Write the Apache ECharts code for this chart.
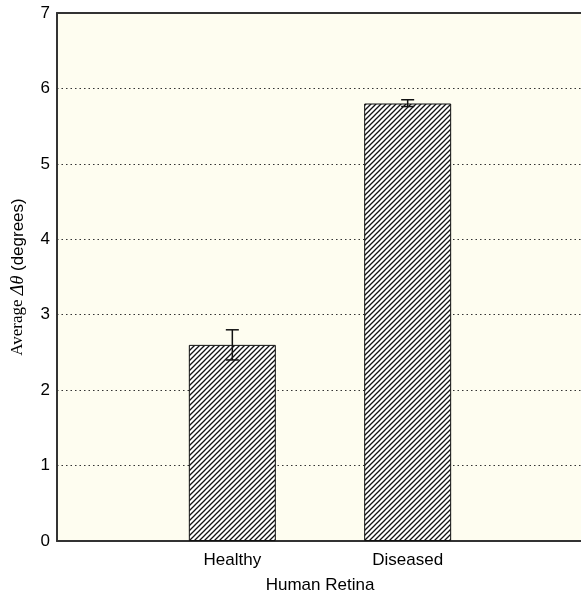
<!DOCTYPE html>
<html><head><meta charset="utf-8">
<script src="https://cdn.jsdelivr.net/npm/echarts@6/dist/echarts.min.js"></script>
<style>html,body{margin:0;padding:0;background:#fff}#c{width:581px;height:591px}</style>
</head><body><div id="c"></div>
<script>
var categories = ['Healthy', 'Diseased'];
var positions = [1, 2];
var means = [2.6, 5.8];
var errLow = [2.4, 5.76];
var errHigh = [2.8, 5.85];
var yTicks = [0, 1, 2, 3, 4, 5, 6, 7];

var pat = document.createElement('canvas');
pat.width = 5; pat.height = 5;
var g = pat.getContext('2d');
g.fillStyle = '#ffffff'; g.fillRect(0, 0, 5, 5);
g.strokeStyle = '#111'; g.lineWidth = 1.3;
g.beginPath();
g.moveTo(0, 5); g.lineTo(5, 0);
g.moveTo(-1, 1); g.lineTo(1, -1);
g.moveTo(4, 6); g.lineTo(6, 4);
g.stroke();

var chart = echarts.init(document.getElementById('c'));
chart.setOption({
  animation: false,
  backgroundColor: '#ffffff',
  grid: {left: 57, top: 13, right: -2, bottom: 50, outerBoundsMode: 'none', containLabel: false,
    show: true, backgroundColor: '#fefdf0', borderWidth: 0},
  xAxis: [{
    type: 'value', min: 0, max: 3, interval: 1,
    axisLine: {show: true, onZero: false, lineStyle: {color: '#333', width: 2}},
    axisTick: {show: false}, splitLine: {show: false},
    axisLabel: {fontFamily: 'Liberation Sans', fontSize: 17, color: '#000', margin: 11,
      formatter: function (v) { var i = positions.indexOf(v); return i >= 0 ? categories[i] : ''; }},
    name: 'Human Retina', nameLocation: 'middle', nameGap: 36,
    nameTextStyle: {fontFamily: 'Liberation Sans', fontSize: 17, color: '#000'}
  }, {
    type: 'value', position: 'top', min: 0, max: 3,
    axisLine: {show: true, onZero: false, lineStyle: {color: '#333', width: 2}},
    axisTick: {show: false}, axisLabel: {show: false}, splitLine: {show: false}
  }],
  yAxis: {
    type: 'value', min: yTicks[0], max: yTicks[yTicks.length - 1], interval: 1,
    axisLine: {show: true, lineStyle: {color: '#333', width: 2}},
    axisTick: {show: false},
    axisLabel: {fontFamily: 'Liberation Sans', fontSize: 17, color: '#000', margin: 7},
    splitLine: {show: true, lineStyle: {type: [1.5, 3], color: '#333', width: 1}},
    name: '{a|Average }{b|\u0394\u03b8}{c| (degrees)}', nameLocation: 'middle', nameGap: 30, nameRotate: 90,
    nameTextStyle: {
      fontSize: 17, color: '#000',
      rich: {
        a: {fontFamily: 'Liberation Serif', fontSize: 17, color: '#000'},
        b: {fontFamily: 'Liberation Serif', fontStyle: 'italic', fontSize: 18, color: '#000'},
        c: {fontFamily: 'Liberation Sans', fontSize: 17, color: '#000'}
      }
    }
  },
  series: [{
    type: 'bar', barWidth: 87,
    data: positions.map(function (p, i) { return [p, means[i]]; }),
    itemStyle: {color: {image: pat, repeat: 'repeat'}, borderColor: '#111', borderWidth: 1}
  }, {
    type: 'custom',
    data: positions.map(function (p, i) { return [p, errLow[i], errHigh[i]]; }),
    renderItem: function (params, api) {
      var lo = api.coord([api.value(0), api.value(1)]);
      var hi = api.coord([api.value(0), api.value(2)]);
      var w = 6.5;
      var st = {stroke: '#111', lineWidth: 1.5};
      return {type: 'group', children: [
        {type: 'line', shape: {x1: lo[0], y1: lo[1], x2: hi[0], y2: hi[1]}, style: st},
        {type: 'line', shape: {x1: lo[0] - w, y1: lo[1], x2: lo[0] + w, y2: lo[1]}, style: st},
        {type: 'line', shape: {x1: hi[0] - w, y1: hi[1], x2: hi[0] + w, y2: hi[1]}, style: st}
      ]};
    },
    z: 5
  }]
});
</script></body></html>
